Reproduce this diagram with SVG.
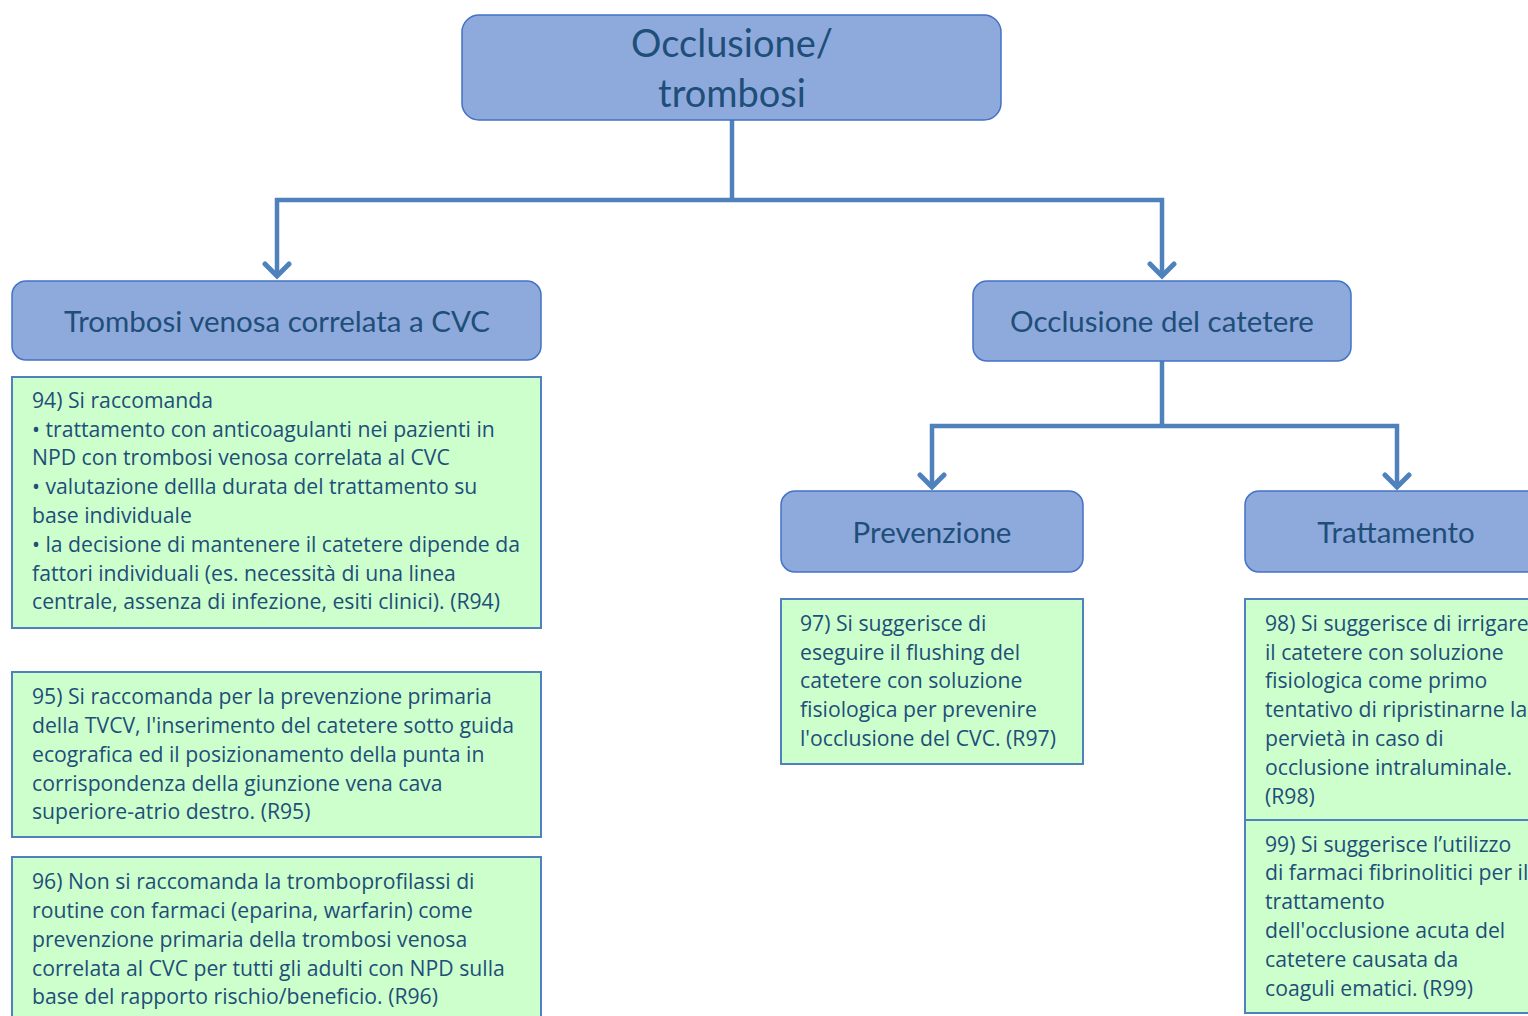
<svg xmlns="http://www.w3.org/2000/svg" width="1528" height="1016" viewBox="0 0 1528 1016">
<style>
.hdr{fill:#8EAADC;stroke:#4472C4;stroke-width:1.5}
.box{fill:#CCFFCC;stroke:#4F81BD;stroke-width:2}
.ht{font-family:Lato,"Noto Sans",sans-serif;fill:#1F4E79;text-anchor:middle}
.bt{font-family:"Open Sans","Noto Sans",sans-serif;fill:#1F4E79;font-size:21.2px}
.con{fill:none;stroke:#4F81BD;stroke-width:4.5;stroke-linejoin:miter}
</style>
<defs>
<marker id="arr" markerUnits="userSpaceOnUse" markerWidth="30" markerHeight="30" refX="24" refY="15" orient="auto" viewBox="0 0 30 30">
<path d="M12,3 L24,15 L12,27" fill="none" stroke="#4F81BD" stroke-width="5" stroke-linecap="round"/>
</marker>
</defs>
<rect width="1528" height="1016" fill="#FFFFFF"/>
<g id="connectors">
<path class="con" d="M732,120 V200"/>
<path class="con" d="M732,200 H277 V276" marker-end="url(#arr)"/>
<path class="con" d="M732,200 H1162 V276" marker-end="url(#arr)"/>
<path class="con" d="M1162,361 V426"/>
<path class="con" d="M1162,426 H932 V487" marker-end="url(#arr)"/>
<path class="con" d="M1162,426 H1397 V487" marker-end="url(#arr)"/>
</g>
<g id="n-root">
<rect class="hdr" x="462" y="15" width="539" height="105" rx="17"/>
<text class="ht" x="732" y="57" font-size="38">Occlusione/</text>
<text class="ht" x="732" y="107" font-size="38">trombosi</text>
</g>
<g id="n-trombosi">
<rect class="hdr" x="12" y="281" width="529" height="79" rx="14"/>
<text class="ht" x="277" y="332" font-size="29.5">Trombosi venosa correlata a CVC</text>
</g>
<g id="n-occlusione">
<rect class="hdr" x="973" y="281" width="378" height="80" rx="14"/>
<text class="ht" x="1162" y="332" font-size="29.5">Occlusione del catetere</text>
</g>
<g id="n-prevenzione">
<rect class="hdr" x="781" y="491" width="302" height="81" rx="14"/>
<text class="ht" x="932" y="543" font-size="29.5">Prevenzione</text>
</g>
<g id="n-trattamento">
<rect class="hdr" x="1245" y="491" width="300" height="81" rx="14"/>
<text class="ht" x="1396" y="543" font-size="29.5">Trattamento</text>
</g>
<g id="n-r94">
<rect class="box" x="12" y="377" width="529" height="251"/>
<text class="bt" x="32" y="408">94) Si raccomanda</text>
<text class="bt" x="32" y="437">• trattamento con anticoagulanti nei pazienti in</text>
<text class="bt" x="32" y="465">NPD con trombosi venosa correlata al CVC</text>
<text class="bt" x="32" y="494">• valutazione dellla durata del trattamento su</text>
<text class="bt" x="32" y="523">base individuale</text>
<text class="bt" x="32" y="552">• la decisione di mantenere il catetere dipende da</text>
<text class="bt" x="32" y="581">fattori individuali (es. necessità di una linea</text>
<text class="bt" x="32" y="609">centrale, assenza di infezione, esiti clinici). (R94)</text>
</g>
<g id="n-r95">
<rect class="box" x="12" y="672" width="529" height="165"/>
<text class="bt" x="32" y="704">95) Si raccomanda per la prevenzione primaria</text>
<text class="bt" x="32" y="733">della TVCV, l'inserimento del catetere sotto guida</text>
<text class="bt" x="32" y="762">ecografica ed il posizionamento della punta in</text>
<text class="bt" x="32" y="791">corrispondenza della giunzione vena cava</text>
<text class="bt" x="32" y="819">superiore-atrio destro. (R95)</text>
</g>
<g id="n-r96">
<rect class="box" x="12" y="857" width="529" height="170"/>
<text class="bt" x="32" y="889">96) Non si raccomanda la tromboprofilassi di</text>
<text class="bt" x="32" y="918">routine con farmaci (eparina, warfarin) come</text>
<text class="bt" x="32" y="947">prevenzione primaria della trombosi venosa</text>
<text class="bt" x="32" y="976">correlata al CVC per tutti gli adulti con NPD sulla</text>
<text class="bt" x="32" y="1004">base del rapporto rischio/beneficio. (R96)</text>
</g>
<g id="n-r97">
<rect class="box" x="781" y="599" width="302" height="165"/>
<text class="bt" x="800" y="631">97) Si suggerisce di</text>
<text class="bt" x="800" y="660">eseguire il flushing del</text>
<text class="bt" x="800" y="688">catetere con soluzione</text>
<text class="bt" x="800" y="717">fisiologica per prevenire</text>
<text class="bt" x="800" y="746">l'occlusione del CVC. (R97)</text>
</g>
<g id="n-r98">
<rect class="box" x="1245" y="599" width="300" height="221"/>
<text class="bt" x="1265" y="631">98) Si suggerisce di irrigare</text>
<text class="bt" x="1265" y="660">il catetere con soluzione</text>
<text class="bt" x="1265" y="688">fisiologica come primo</text>
<text class="bt" x="1265" y="717">tentativo di ripristinarne la</text>
<text class="bt" x="1265" y="746">pervietà in caso di</text>
<text class="bt" x="1265" y="775">occlusione intraluminale.</text>
<text class="bt" x="1265" y="804">(R98)</text>
</g>
<g id="n-r99">
<rect class="box" x="1245" y="820" width="300" height="193"/>
<text class="bt" x="1265" y="852">99) Si suggerisce l’utilizzo</text>
<text class="bt" x="1265" y="880">di farmaci fibrinolitici per il</text>
<text class="bt" x="1265" y="909">trattamento</text>
<text class="bt" x="1265" y="938">dell'occlusione acuta del</text>
<text class="bt" x="1265" y="967">catetere causata da</text>
<text class="bt" x="1265" y="996">coaguli ematici. (R99)</text>
</g>
</svg>
